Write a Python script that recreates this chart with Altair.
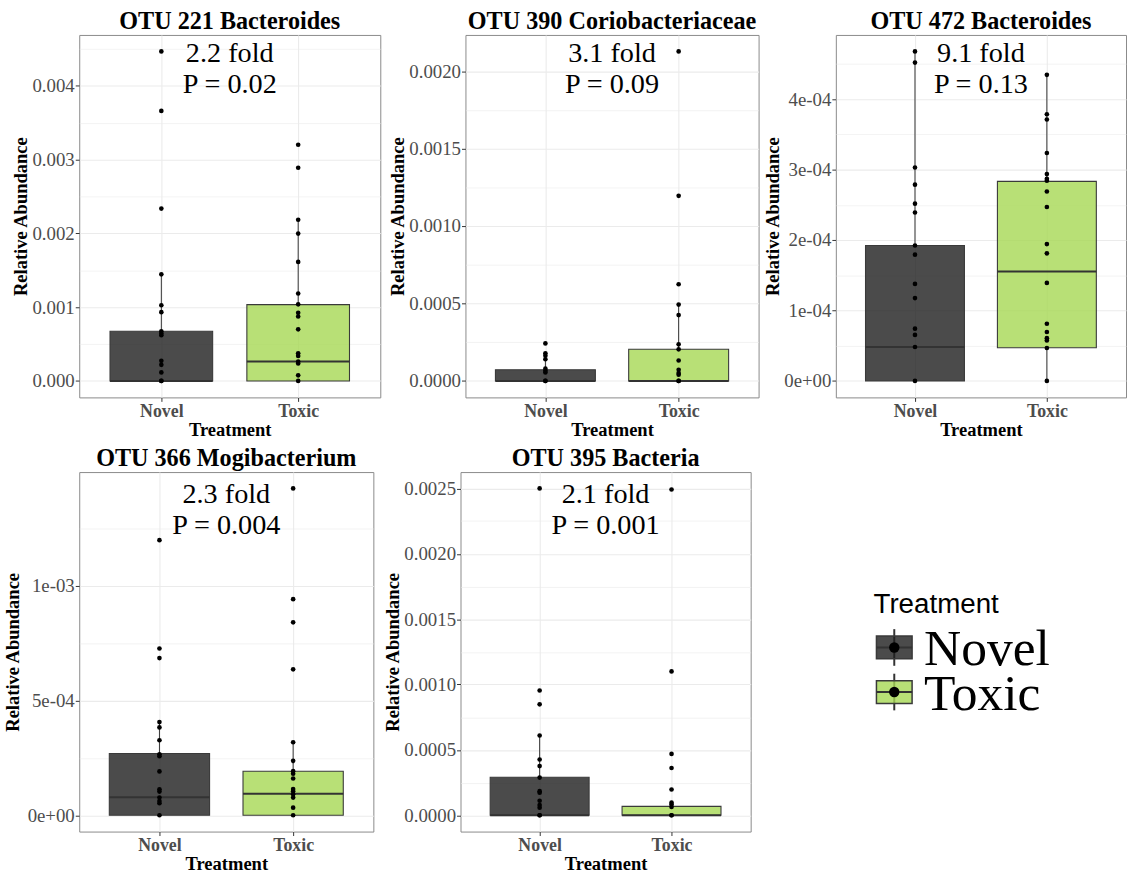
import altair as alt
import pandas as pd

CATS = ["Novel", "Toxic"]
FILLS = ["#1e1e1e", "#A6D854"]

TITLES = ["OTU 221 Bacteroides", "OTU 390 Coriobacteriaceae", "OTU 472 Bacteroides",
          "OTU 366 Mogibacterium", "OTU 395 Bacteria"]
FOLDS = ["2.2 fold", "3.1 fold", "9.1 fold", "2.3 fold", "2.1 fold"]
PVALS = ["P = 0.02", "P = 0.09", "P = 0.13", "P = 0.004", "P = 0.001"]

# ---- points (relative abundance) ----
otu221_novel = [0.004468, 0.003661, 0.002337, 0.001445, 0.001026, 0.000932, 0.000673,
                0.000642, 0.00062, 0.000272, 0.000218, 0.000116, 0.0, 0.0]
otu221_toxic = [0.003202, 0.00289, 0.002185, 0.001998, 0.001614, 0.001186, 0.001039,
                0.000923, 0.000874, 0.0007, 0.000375, 0.000339, 0.000263, 0.000236,
                0.000076, 0.0]
otu390_novel = [0.000242, 0.000178, 0.000163, 0.00014, 0.000079, 0.000066, 0.000055, 0.0, 0.0]
otu390_toxic = [0.002127, 0.001195, 0.000624, 0.000493, 0.000425, 0.000236, 0.000204,
                0.000132, 0.000072, 0.000051, 0.00004, 0.0, 0.0]
otu472_novel = [4.677e-4, 4.518e-4, 3.029e-4, 2.786e-4, 2.516e-4, 2.39e-4, 1.923e-4,
                1.792e-4, 1.377e-4, 1.176e-4, 7.42e-5, 6.53e-5, 4.81e-5, 0.0]
otu472_toxic = [4.345e-4, 3.785e-4, 3.711e-4, 3.235e-4, 2.936e-4, 2.87e-4, 2.843e-4,
                2.688e-4, 2.469e-4, 1.942e-4, 1.811e-4, 1.391e-4, 8.12e-5, 6.95e-5,
                6.07e-5, 5.74e-5, 4.67e-5, 0.0]
otu366_novel = [1.1994e-3, 7.27e-4, 6.85e-4, 4.06e-4, 3.83e-4, 3.27e-4, 2.66e-4, 2.57e-4,
                1.91e-4, 1.13e-4, 1.03e-4, 7.7e-5, 6.2e-5, 5.2e-5, 0.0]
otu366_toxic = [1.4249e-3, 9.42e-4, 8.41e-4, 6.36e-4, 3.18e-4, 2.37e-4, 1.92e-4, 1.81e-4,
                1.6e-4, 1.14e-4, 1.05e-4, 9.1e-5, 7.7e-5, 3.3e-5, 0.0]
otu395_novel = [0.0025, 9.54e-4, 8.48e-4, 6.1e-4, 4.26e-4, 3.76e-4, 2.88e-4, 1.84e-4,
                1.72e-4, 1.11e-4, 7.8e-5, 5.8e-5, 0.0, 0.0]
otu395_toxic = [0.002492, 0.0011, 4.69e-4, 3.61e-4, 1.97e-4, 9.6e-5, 8.3e-5, 6.3e-5, 0.0, 0.0]

# ---- box statistics [Novel, Toxic] ----
otu221_box = {"lo": [0.0, 0.0], "q1": [0.0, 0.0], "med": [0.0, 0.000263],
              "q3": [0.000673, 0.001035], "hi": [0.001445, 0.002185]}
otu390_box = {"lo": [0.0, 0.0], "q1": [0.0, 0.0], "med": [0.0, 0.0],
              "q3": [0.000072, 0.000204], "hi": [0.000178, 0.000493]}
otu472_box = {"lo": [0.0, 0.0], "q1": [0.0, 4.71e-5], "med": [4.8e-5, 1.554e-4],
              "q3": [1.923e-4, 2.833e-4], "hi": [4.677e-4, 4.345e-4]}
otu366_box = {"lo": [0.0, 0.0], "q1": [0.0, 0.0], "med": [7.8e-5, 9.4e-5],
              "q3": [2.69e-4, 1.92e-4], "hi": [4.06e-4, 3.18e-4]}
otu395_box = {"lo": [0.0, 0.0], "q1": [0.0, 0.0], "med": [0.0, 0.0],
              "q3": [2.9e-4, 6.8e-5], "hi": [6.1e-4, 9.6e-5]}

# ---- y tick values ----
otu221_ticks = [0.0, 0.001, 0.002, 0.003, 0.004]
otu390_ticks = [0.0, 0.0005, 0.001, 0.0015, 0.002]
otu472_ticks = [0.0, 1e-4, 2e-4, 3e-4, 4e-4]
otu366_ticks = [0.0, 5e-4, 1e-3]
otu395_ticks = [0.0, 0.0005, 0.001, 0.0015, 0.002, 0.0025]

SERIF = "Liberation Serif"
SANS = "Liberation Sans"


def panel(idx, novel, toxic, box, ticks, kind, W, H, dy, ytp=1):
    positions = {c: i + 1 for i, c in enumerate(CATS)}
    pts = pd.DataFrame({"Treatment": ["Novel"] * len(novel) + ["Toxic"] * len(toxic),
                        "value": novel + toxic})
    pts["pos"] = pts["Treatment"].map(positions)
    bx = pd.DataFrame({"Treatment": CATS, "pos": [positions[c] for c in CATS], **box})
    allv = novel + toxic
    lo, hi = min(allv), max(allv)
    pad = 0.05 * (hi - lo)
    dmin, dmax = lo - pad, hi + pad
    step = ticks[1] - ticks[0]
    minors = [t + step / 2 for t in ticks] + [ticks[0] - step / 2]
    minors = [m for m in minors if dmin <= m <= dmax]
    values = sorted(ticks + minors)
    test = f"abs(datum.value/{step} - round(datum.value/{step})) > 0.25"
    if kind == "sci":
        lab = "datum.value == 0 ? '0e+00' : replace(format(datum.value, '.0e'), 'e-', 'e-0')"
    else:
        lab = f"format(datum.value, '{kind}')"
    yaxis = alt.Axis(values=values, title="Relative Abundance", labelOverlap=False,
                     labelExpr=f"{test} ? '' : {lab}", titlePadding=ytp,
                     gridWidth={"condition": {"test": test, "value": 0.6}, "value": 1.1},
                     tickOpacity={"condition": {"test": test, "value": 0}, "value": 1})
    cat_list = "[" + ",".join(f"'{c}'" for c in CATS) + "]"
    xaxis = alt.Axis(values=[positions[c] for c in CATS], title="Treatment",
                     labelExpr=f"{cat_list}[datum.value - 1]", labelFontWeight="bold",
                     labelFontSize=18, labelFlush=False, gridWidth=1.1)
    ys = alt.Scale(domain=[dmin, dmax], nice=False, zero=False)
    xs = alt.Scale(domain=[0.4, 2.6], nice=False, zero=False)

    def X(f):
        return alt.X(f, scale=xs, axis=xaxis)

    def Y(f):
        return alt.Y(f, scale=ys, axis=yaxis)

    bbase = alt.Chart(bx).transform_calculate(xl="datum.pos - 0.375", xr="datum.pos + 0.375")
    wh_up = bbase.mark_rule(color="#333333", strokeWidth=1).encode(
        x=X("pos:Q"), y=Y("q3:Q"), y2="hi:Q")
    wh_dn = bbase.mark_rule(color="#333333", strokeWidth=1).encode(
        x=X("pos:Q"), y=Y("lo:Q"), y2="q1:Q")
    rect = bbase.mark_rect(stroke="#3a3a3a", strokeWidth=1.1, fillOpacity=0.8).encode(
        x=X("xl:Q"), x2="xr:Q", y=Y("q1:Q"), y2="q3:Q",
        fill=alt.Fill("Treatment:N", scale=alt.Scale(domain=CATS, range=FILLS), legend=None))
    med = bbase.mark_rule(color="#333333", strokeWidth=2).encode(
        x=X("xl:Q"), x2="xr:Q", y=Y("med:Q"))
    dots = alt.Chart(pts).mark_circle(size=22, color="black", opacity=1).encode(
        x=X("pos:Q"), y=Y("value:Q"))
    ann = pd.DataFrame({"pos": [sum(positions.values()) / len(CATS)], "y": [hi],
                        "label": [FOLDS[idx] + "\n" + PVALS[idx]]})
    txt = alt.Chart(ann).mark_text(font=SERIF, fontSize=28.5, baseline="top", lineHeight=31,
                                   lineBreak="\n", dy=dy, color="black").encode(
        x=X("pos:Q"), y=Y("y:Q"), text="label:N")
    return alt.layer(wh_up, wh_dn, rect, med, dots, txt).properties(
        width=W, height=H,
        title=alt.TitleParams(TITLES[idx], font=SERIF, fontSize=24.4, fontWeight="bold",
                              anchor="middle", frame="group", offset=1, color="black"))


p1 = panel(0, otu221_novel, otu221_toxic, otu221_box, otu221_ticks, ".3f", 304, 366, -12)
p2 = panel(1, otu390_novel, otu390_toxic, otu390_box, otu390_ticks, ".4f", 296, 366, -12)
p3 = panel(2, otu472_novel, otu472_toxic, otu472_box, otu472_ticks, "sci", 293, 366, -12)
p4 = panel(3, otu366_novel, otu366_toxic, otu366_box, otu366_ticks, "sci", 297, 363, -8, ytp=5)
p5 = panel(4, otu395_novel, otu395_toxic, otu395_box, otu395_ticks, ".4f", 293, 363, -8)

# ---- legend drawn as a small chart ----
leg = pd.DataFrame({"Treatment": CATS})
yl = alt.Y("Treatment:N", axis=None,
           scale=alt.Scale(domain=CATS, paddingInner=0.489, paddingOuter=0.2445, range=[0, 90]))
lfill = alt.Fill("Treatment:N", scale=alt.Scale(domain=CATS, range=FILLS), legend=None)
lb = alt.Chart(leg)
l_wh = lb.mark_tick(orient="vertical", size=37, thickness=2, color="#333333", opacity=1).encode(
    x=alt.value(18), y=yl)
l_box = lb.mark_bar(stroke="#3a3a3a", strokeWidth=1.5, fillOpacity=0.8).encode(
    x=alt.value(0), x2=alt.value(36), y=yl, fill=lfill)
l_med = lb.mark_tick(orient="horizontal", size=36, thickness=2, color="#333333", opacity=1).encode(
    x=alt.value(18), y=yl)
l_dot = lb.mark_circle(size=110, color="black", opacity=1).encode(x=alt.value(18), y=yl)
l_txt = lb.mark_text(align="left", baseline="middle", font=SERIF, fontSize=52, dy=2,
                     color="black").encode(x=alt.value(48), y=yl, text="Treatment:N")
legend = alt.layer(l_wh, l_box, l_med, l_dot, l_txt).properties(
    width=200, height=92, view=alt.ViewBackground(stroke="transparent"),
    title=alt.TitleParams("Treatment", font=SANS, fontSize=28, fontWeight="normal",
                          anchor="start", frame="group", offset=5, color="black", dx=-3))

row1 = alt.hconcat(alt.hconcat(p1, p2, spacing=7), p3, spacing=3)
row2 = alt.hconcat(alt.hconcat(p4, p5, spacing=9), legend, spacing=122, center=True)
chart = alt.vconcat(row1, row2, spacing=5).properties(
    padding={"left": 2, "top": 4, "right": 0, "bottom": 0}
).configure_view(stroke="#8a8a8a", strokeWidth=1).configure_axis(
    domain=False, tickColor="#333333", tickSize=4, tickWidth=1, labelPadding=1,
    labelFont=SERIF, labelFontSize=19, labelColor="#4D4D4D",
    titleFont=SERIF, titleFontSize=18.7, titleFontWeight="bold", titleColor="black",
    titlePadding=2, gridColor="#EBEBEB"
).configure_axisX(titlePadding=0)

chart.save("out.html", embed_options={"renderer": "svg", "actions": False})
